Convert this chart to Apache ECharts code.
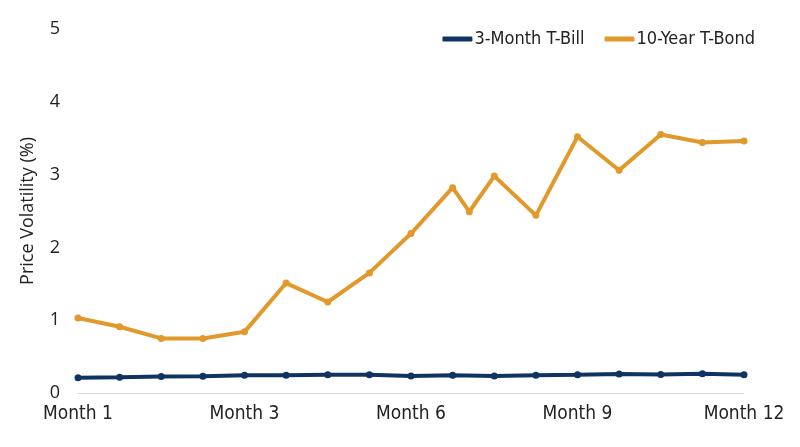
<!DOCTYPE html>
<html lang="en" style="height: 100%">
  <head>
    <meta charset="utf-8">
    <title>Price Volatility</title>
  </head>
  <body style="height: 100%; margin: 0; background: #fff">
    <div id="container" style="width: 800px; height: 447px;"></div>
    <script type="text/javascript" src="https://cdn.jsdelivr.net/npm/echarts@6/dist/echarts.min.js"></script>
    <script type="text/javascript">
      // tick labels on the x axis (one every 4 steps)
      var monthLabels = ['Month 1', 'Month 3', 'Month 6', 'Month 9', 'Month 12'];

      // 3-Month T-Bill
      var billX = [0, 1, 2, 3, 4, 5, 6, 7, 8, 9, 10, 11, 12, 13, 14, 15, 16];
      var billY = [0.21, 0.215, 0.225, 0.23, 0.245, 0.245, 0.25, 0.25, 0.235, 0.245, 0.235, 0.245, 0.25, 0.26, 0.255, 0.265, 0.25];

      // 10-Year T-Bond (has one extra observation between steps 9 and 10)
      var bondX = [0, 1, 2, 3, 4, 5, 6, 7, 8, 9, 9.4, 10, 11, 12, 13, 14, 15, 16];
      var bondY = [1.03, 0.91, 0.75, 0.75, 0.84, 1.51, 1.25, 1.65, 2.19, 2.82, 2.49, 2.98, 2.44, 3.52, 3.06, 3.55, 3.44, 3.46];

      function pairs(xs, ys) {
        return xs.map(function (x, i) { return [x, ys[i]]; });
      }

      var condensed = "'Liberation Sans Narrow', 'DejaVu Sans Condensed', sans-serif";

      var dom = document.getElementById('container');
      var myChart = echarts.init(dom, null, { renderer: 'canvas' });

      var option = {
        animation: false,
        color: ['#103462', '#E0992A'],
        legend: {
          right: 40,
          top: 25,
          itemWidth: 30,
          itemHeight: 5,
          itemGap: 20,
          icon: 'roundRect',
          textStyle: { fontFamily: condensed, fontSize: 18, color: '#222', padding: [0, 0, 0, -3] },
          data: ['3-Month T-Bill', '10-Year T-Bond']
        },
        grid: {
          left: 78,
          right: 56,
          top: 29,
          bottom: 54
        },
        xAxis: {
          type: 'value',
          min: 0,
          max: 16,
          interval: 4,
          splitLine: { show: false },
          axisTick: { show: false },
          axisLine: { lineStyle: { color: '#dcdcdc', width: 1 } },
          axisLabel: {
            margin: 12,
            fontFamily: condensed,
            fontSize: 19,
            color: '#222',
            formatter: function (v) { return monthLabels[v / 4]; }
          }
        },
        yAxis: {
          type: 'value',
          min: 0,
          max: 5,
          interval: 1,
          name: 'Price Volatility (%)',
          nameLocation: 'middle',
          nameGap: 41,
          nameTextStyle: { fontFamily: "'Open Sans', sans-serif", fontSize: 18, color: '#222' },
          splitLine: { show: false },
          axisLine: { show: false },
          axisTick: { show: false },
          axisLabel: { margin: 18, fontFamily: "'Open Sans', sans-serif", fontSize: 18, color: '#222' }
        },
        series: [
          {
            name: '3-Month T-Bill',
            type: 'line',
            data: pairs(billX, billY),
            symbol: 'circle',
            symbolSize: 7,
            lineStyle: { width: 4 }
          },
          {
            name: '10-Year T-Bond',
            type: 'line',
            data: pairs(bondX, bondY),
            symbol: 'circle',
            symbolSize: 7,
            lineStyle: { width: 4 }
          }
        ]
      };

      if (option && typeof option === 'object') {
        myChart.setOption(option);
      }
    </script>
  </body>
</html>
